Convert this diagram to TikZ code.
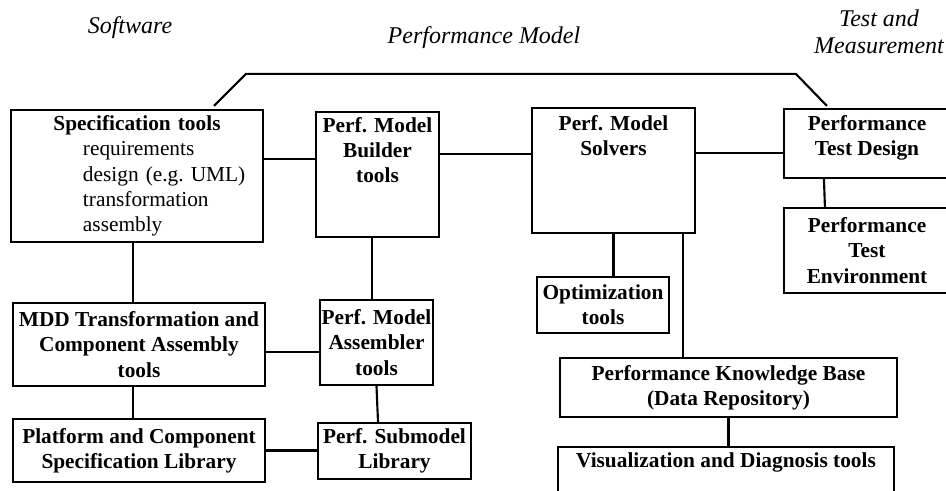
\documentclass[tikz,border=0pt]{standalone}
\usepackage{fontspec}
\setmainfont{Liberation Serif}
\usetikzlibrary{calc}

\begin{document}
\begin{tikzpicture}[x = 0.75pt,
                    y = -0.75pt,
                    blk/.style = {draw, line width=1.6pt, rectangle, inner sep=0pt,
                                  align=center, font=\fontsize{16}{19}\selectfont\bfseries},
                    toplbl/.style = {anchor=north, inner sep=4.5pt, align=center,
                                  font=\fontsize{16}{19}\selectfont\bfseries},
                    link/.style = {line width=1.6pt},
                    area/.style = {font=\fontsize{18}{20}\selectfont\itshape, align=center}]
\useasboundingbox (0,0) rectangle (946,491);
\clip (0,0) rectangle (946,491);

\node[area] (swlbl) at (130,28) {Software};
\node[area] (pmlbl) at (484,38) {Performance Model};
\node[area] (tmlbl) at (879,32) {Test and\\Measurement};

% software
\node[blk, minimum width=189pt, minimum height=99pt, text width=189pt, align=left,
      font=\fontsize{16}{19}\selectfont] (spec) at (137,176)
  {\makebox[189pt]{\bfseries Specification tools}\\
   \hspace*{54pt}requirements\\
   \hspace*{54pt}design (e.g.\ UML)\\
   \hspace*{54pt}transformation\\
   \hspace*{54pt}assembly};
\node[blk, minimum width=189pt, minimum height=62.25pt] (mdd) at (139,344.5)
  {MDD Transformation and\\Component Assembly\\tools};
\node[blk, minimum width=189pt, minimum height=47.25pt] (plat) at (139,450.5)
  {Platform and Component\\Specification Library};

% model
\node[blk, minimum width=92.25pt, minimum height=93.75pt,
      label={[toplbl]north:Perf. Model\\Builder\\tools}] (builder) at (377.5,174.5) {};
\node[blk, minimum width=84.75pt, minimum height=63.75pt] (asm) at (376.5,342.5)
  {Perf. Model\\Assembler\\tools};
\node[blk, minimum width=114.75pt, minimum height=42pt] (sub) at (394.5,451)
  {Perf. Submodel\\Library};
\node[blk, minimum width=122.25pt, minimum height=93.75pt,
      label={[toplbl, inner sep=6pt]north:Perf. Model\\Solvers}] (solvers) at (613.5,170.5) {};
\node[blk, minimum width=99pt, minimum height=42pt] (opt) at (603,305)
  {Optimization\\tools};
\node[blk, minimum width=252.75pt, minimum height=44.25pt] (kb) at (728.5,387.5)
  {Performance Knowledge Base\\(Data Repository)};
\node[blk, minimum width=252pt, minimum height=52.5pt,
      label={[toplbl]north:Visualization and Diagnosis tools}] (vis) at (726,482) {};

% test
\node[blk, minimum width=124.5pt, minimum height=51.75pt,
      label={[toplbl, inner sep=5.5pt]north:Performance\\Test Design}] (design) at (867,143.5) {};
\node[blk, minimum width=124.5pt, minimum height=63.75pt] (env) at (867,250.5)
  {Performance\\Test\\Environment};

% links
\draw[link] ($(spec.north)+(77,-3)$) -- ++(32,-32)
  -- ($(design.north west)+(13,-34)$) -- ($(design.north west)+(44,-2)$);

\path ($(spec.east)+(0,-17)$) coordinate (sb)
      ($(builder.east)+(0,-20.5)$) coordinate (bs)
      ($(solvers.east)+(0,-17.5)$) coordinate (sd)
      ($(solvers.south)+(69.5,0)$) coordinate (sk)
      ($(mdd.east)+(0,7.5)$) coordinate (ma);
\draw[link] (sb) -- (sb -| builder.west);
\draw[link] (bs) -- (bs -| solvers.west);
\draw[link] (sd) -- (sd -| design.west);
\draw[link] ($(design.south west)+(41,0)$) -- ($(env.north west)+(42,0)$);
\draw[link] (solvers.south) -- (solvers.south |- opt.north);
\draw[link] (sk) -- (sk |- kb.north);
\draw[link] ($(env.south west)+(39,0)$) -- ($(env.south west)+(39,0)$ |- kb.north);
\draw[link] (kb.south) -- (kb.south |- vis.north);

\draw[link] ($(spec.south)+(-4,0)$) -- ($(mdd.north)+(-6,0)$);
\draw[link] ($(builder.south)+(-5.5,0)$) -- ($(asm.north)+(-4.5,0)$);
\draw[link] (ma) -- (ma -| asm.west);
\draw[link] ($(mdd.south)+(-6,0)$) -- ($(plat.north)+(-6,0)$);
\draw[link] (asm.south) -- ($(sub.north)+(-16.5,0)$);
\draw[link] (plat.east) -- (plat.east -| sub.west);

\end{tikzpicture}
\end{document}
